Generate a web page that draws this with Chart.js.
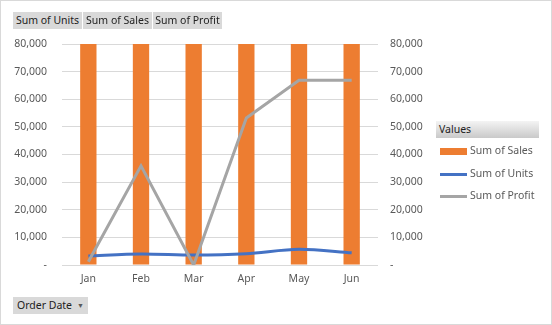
<!DOCTYPE html>
<html>
<head>
<meta charset="utf-8">
<script src="https://cdn.jsdelivr.net/npm/chart.js@4.4.1/dist/chart.umd.min.js"></script>
<style>
  body { margin: 0; background: #fff; font-family: "Noto Sans", sans-serif; }
  #frame { position: relative; width: 550px; height: 323px; border: 1px solid #d9d9d9; overflow: hidden; }
  #c { position: absolute; left: -1px; top: -1px; }
  .btn { position: absolute; background: #d9d9d9; color: #222; font-size: 10.5px; line-height: 17px; height: 17px; text-align: center; white-space: nowrap; }
  .arrow { font-size: 7px; color: #595959; margin-left: 5px; vertical-align: 1px; }
  #lgTitle { position: absolute; left: 435px; top: 120px; width: 103px; height: 17px; line-height: 17px; font-size: 10.5px; color: #222;
             background: linear-gradient(#f4f4f4, #c9c9c9); padding-left: 3px; box-sizing: border-box; }
  .lgItem { position: absolute; left: 439px; font-size: 10.5px; color: #595959; white-space: nowrap; height: 14px; line-height: 14px; }
  .lgItem span.sw { display: inline-block; width: 27px; vertical-align: middle; margin-right: 3px; }
</style>
</head>
<body>
<div id="frame">
  <canvas id="c" width="552" height="325"></canvas>
  <div class="btn" style="left:12px;top:11px;width:69px;">Sum of Units</div>
  <div class="btn" style="left:82px;top:11px;width:69px;">Sum of Sales</div>
  <div class="btn" style="left:152px;top:11px;width:69px;">Sum of Profit</div>
  <div class="btn" style="left:12px;top:296px;width:75px;height:17px;line-height:17px;">Order Date<span class="arrow">&#9660;</span></div>
  <div id="lgTitle">Values</div>
  <div id="legend"></div>
</div>
<script>
// datos
const months = ["Jan", "Feb", "Mar", "Apr", "May", "Jun"];
const sales = [120000, 150000, 110000, 180000, 220000, 210000]; // recortadas arriba
const units = [3300, 4000, 3600, 4100, 5700, 4400];
const profit = [1200, 35900, 0, 53200, 66900, 66900];
const yTicks = [0, 10000, 20000, 30000, 40000, 50000, 60000, 70000, 80000];

function fmt(v) {
  return v === 0 ? "-" : v.toLocaleString("en-US");
}

const ctx = document.getElementById('c');

const chart = new Chart(ctx, {
  type: 'bar',
  data: {
    labels: months,
    datasets: [
      {
        type: 'bar',
        label: 'Sum of Sales',
        data: sales,
        backgroundColor: '#ED7D31',
        yAxisID: 'y',
        categoryPercentage: 1,
        barPercentage: 0.31,
        order: 2
      },
      {
        type: 'line',
        label: 'Sum of Units',
        data: units,
        borderColor: '#4472C4',
        borderWidth: 3,
        pointRadius: 0,
        tension: 0.3,
        yAxisID: 'y',
        order: 1
      },
      {
        type: 'line',
        label: 'Sum of Profit',
        data: profit,
        borderColor: '#A5A5A5',
        borderWidth: 3,
        pointRadius: 0,
        tension: 0,
        yAxisID: 'y1',
        order: 0
      }
    ]
  },
  options: {
    responsive: false,
    animation: false,
    layout: { padding: { top: 44, left: 0, right: 0, bottom: 0 } },
    plugins: { legend: { display: false }, tooltip: { enabled: false } },
    scales: {
      x: {
        grid: { display: false, drawTicks: false },
        border: { display: false },
        ticks: { color: '#595959', font: { family: 'Noto Sans', size: 10.5 }, padding: 8 },
        afterFit: s => { s.height = 60; }
      },
      y: {
        min: 0, max: 80000,
        afterBuildTicks: s => { s.ticks = yTicks.map(v => ({ value: v })); },
        grid: { color: '#d9d9d9', drawTicks: false },
        border: { display: false },
        ticks: { color: '#595959', font: { family: 'Noto Sans', size: 10.5 }, padding: 15, callback: v => fmt(v) },
        afterFit: s => { s.width = 62; }
      },
      y1: {
        position: 'right',
        min: 0, max: 80000,
        afterBuildTicks: s => { s.ticks = yTicks.map(v => ({ value: v })); },
        grid: { display: false, drawTicks: false },
        border: { display: false },
        ticks: { color: '#595959', font: { family: 'Noto Sans', size: 10.5 }, padding: 12, callback: v => fmt(v) },
        afterFit: s => { s.width = 174; }
      }
    }
  }
});

// leyenda a mano
const legendTops = [142, 165, 187];
const legend = document.getElementById('legend');
chart.data.datasets.forEach((ds, i) => {
  const el = document.createElement('div');
  el.className = 'lgItem';
  el.style.top = legendTops[i] + 'px';
  const sw = document.createElement('span');
  sw.className = 'sw';
  if (ds.type === 'bar') {
    sw.style.height = '7px';
    sw.style.background = ds.backgroundColor;
  } else {
    sw.style.height = '3px';
    sw.style.background = ds.borderColor;
  }
  el.appendChild(sw);
  el.appendChild(document.createTextNode(ds.label));
  legend.appendChild(el);
});
</script>
</body>
</html>
